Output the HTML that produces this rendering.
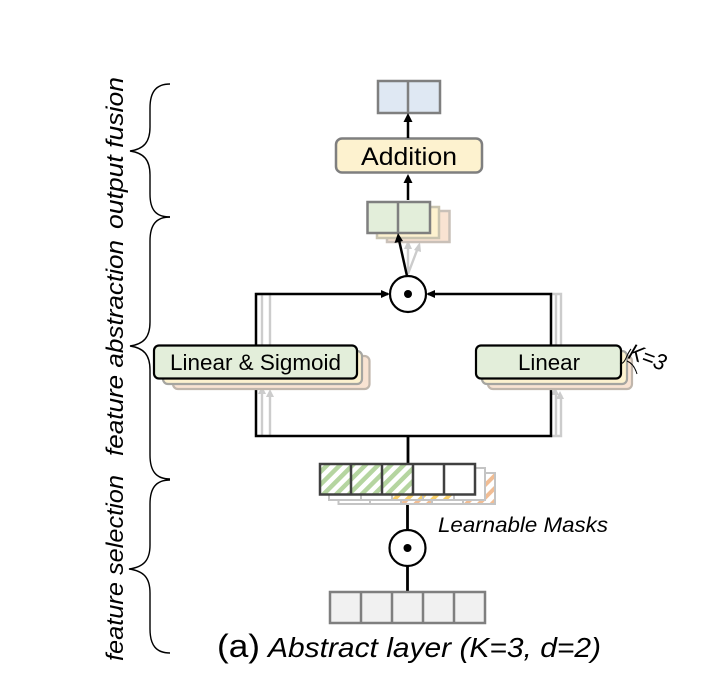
<!DOCTYPE html>
<html>
<head>
<meta charset="utf-8">
<style>
html,body{margin:0;padding:0;background:#fff;width:712px;height:684px;overflow:hidden}
svg{display:block}
text{font-family:"Liberation Sans",sans-serif;fill:#000}
</style>
</head>
<body>
<svg width="712" height="684" viewBox="0 0 712 684" xmlns="http://www.w3.org/2000/svg">
<defs>
<pattern id="hg" width="9" height="9" patternUnits="userSpaceOnUse" patternTransform="rotate(45)"><rect width="9" height="9" fill="#fff"/><rect width="4.5" height="9" fill="#b5d5a0"/></pattern>
<pattern id="hy" width="9" height="9" patternUnits="userSpaceOnUse" patternTransform="rotate(45)"><rect width="9" height="9" fill="#fff"/><rect width="4" height="9" fill="#f7cf6a"/></pattern>
<pattern id="ho" width="9" height="9" patternUnits="userSpaceOnUse" patternTransform="rotate(45)"><rect width="9" height="9" fill="#fff"/><rect width="4" height="9" fill="#f1bd94"/></pattern>
</defs>

<!-- braces -->
<g fill="none" stroke="#000" stroke-width="1.4">
<path d="M170 84C156 84 150 92 150 108V127C150 142 144 149 130 151C144 153 150 160 150 175V194C150 210 156 217 170 217"/>
<path d="M170 217C156 217 150 225 150 241V322C150 337 144 344 130 346C144 348 150 355 150 370V455C150 471 156 479 170 479"/>
<path d="M170 480C156 480 150 488 150 504V545C150 560 144 567 129 569C144 571 150 578 150 593V629C150 645 156 653 170 653"/>
</g>

<!-- side labels -->
<g font-style="italic" font-size="24">
<text transform="translate(123 229) rotate(-90)" textLength="152" lengthAdjust="spacingAndGlyphs">output fusion</text>
<text transform="translate(123 456) rotate(-90)" textLength="216" lengthAdjust="spacingAndGlyphs">feature abstraction</text>
<text transform="translate(123 661) rotate(-90)" textLength="186" lengthAdjust="spacingAndGlyphs">feature selection</text>
</g>

<!-- grey ghost connectors -->
<g fill="none" stroke="#cccccc" stroke-width="2.400">
<path d="M256 294H270V345M262 294V345M262 392V436M270 392V436"/>
<path d="M551 294H561V345M556 294V345M556 392V436H551M561 395V436H551"/>
<path d="M408 274L408 242M408 274L419 245"/>
</g>
<g fill="#cccccc">
<path d="M262 386l-4 8h8z"/><path d="M270 389l-4 8h8z"/>
<path d="M555 387l-4 8h8z"/><path d="M560 391l-4 8h8z"/>
<path d="M408 240l-4 9h8z"/><path d="M420 242l-6 8 7 2z"/>
</g>

<!-- top output -->
<rect x="378" y="81" width="62" height="32" fill="#dfe8f3" stroke="#7f7f7f" stroke-width="2.500"/>
<path d="M408 81V113" stroke="#7f7f7f" stroke-width="2.500"/>

<!-- stacked green -->
<rect x="387" y="211" width="62.500" height="31" fill="#f9e3d2" stroke="#c9c0b8" stroke-width="2.500"/>
<rect x="377" y="207" width="62" height="31" fill="#fdf2cf" stroke="#c9c4b0" stroke-width="2.500"/>
<rect x="367.500" y="202" width="62.500" height="31" fill="#e3eeda" stroke="#7f7f7f" stroke-width="2.500"/>
<path d="M398 202V233" stroke="#7f7f7f" stroke-width="2.500"/>

<!-- addition -->
<rect x="336" y="138.500" width="146" height="34" rx="6" fill="#fdf2cf" stroke="#7f7f7f" stroke-width="2.500"/>
<text x="361" y="165" font-size="25" textLength="96" lengthAdjust="spacingAndGlyphs">Addition</text>

<!-- black connectors -->
<g fill="none" stroke="#000" stroke-width="2.500">
<path d="M408 138V120"/>
<path d="M408 200V179"/>
<path d="M407 276L399 240"/>
<path d="M256 345V294H388"/>
<path d="M551 345V294H428"/>
<path d="M256 385V436H551V385"/>
</g>
<g stroke="#000" stroke-width="2.800" fill="none"><path d="M408 436V463M407.500 494V530M407.500 566V592"/></g>
<g fill="#000">
<path d="M408 113l-4.500 9h9z"/>
<path d="M408 174l-4.500 9h9z"/>
<path d="M398 233l-3.500 10 8.500-2z"/>
<path d="M390 294l-9-4v8z"/>
<path d="M426 294l9-4v8z"/>
<path d="M256 380l-4 8h8z"/>
<path d="M551 380l-4 8h8z"/>
</g>

<!-- circle 1 -->
<circle cx="408" cy="294" r="18" fill="#fff" stroke="#000" stroke-width="2.200"/>
<circle cx="408" cy="294" r="4" fill="#000"/>

<!-- Linear & Sigmoid stack -->
<rect x="173" y="356" width="196.500" height="33" rx="5" fill="#f9e3d2" stroke="#c0b6ac" stroke-width="2.200"/>
<rect x="163" y="351" width="199" height="33" rx="5" fill="#fdf2cf" stroke="#a5a5a0" stroke-width="2.200"/>
<rect x="154" y="345.500" width="203" height="33" rx="5" fill="#e3eeda" stroke="#000" stroke-width="2.200"/>
<text x="170" y="370" font-size="22" textLength="171" lengthAdjust="spacingAndGlyphs">Linear &amp; Sigmoid</text>

<!-- Linear stack -->
<rect x="488" y="356" width="144" height="33" rx="5" fill="#f9e3d2" stroke="#c0b6ac" stroke-width="2.200"/>
<rect x="482" y="351" width="145" height="33" rx="5" fill="#fdf2cf" stroke="#a5a5a0" stroke-width="2.200"/>
<rect x="476" y="345.500" width="145" height="33" rx="5" fill="#e3eeda" stroke="#000" stroke-width="2.200"/>
<text x="518" y="370" font-size="22" textLength="62" lengthAdjust="spacingAndGlyphs">Linear</text>

<!-- K=3 -->
<text transform="translate(627 358) rotate(20)" font-size="23" font-style="italic" textLength="38" lengthAdjust="spacingAndGlyphs">K=3</text>
<path d="M620 364C626 363 626 355 631 349M627 361C632 363 635 367 637 374" fill="none" stroke="#000" stroke-width="1"/>

<!-- masks back: third layer -->
<rect x="338.500" y="473" width="156.500" height="31" fill="#fff"/>
<rect x="401" y="473" width="31" height="31" fill="url(#ho)"/>
<rect x="464" y="473" width="31" height="31" fill="url(#ho)"/>
<rect x="338.500" y="473" width="156.500" height="31" fill="none" stroke="#c4c4c4" stroke-width="2"/>
<path d="M370 473V504M401 473V504M432 473V504M463 473V504" stroke="#c4c4c4" stroke-width="2"/>
<!-- masks back: second layer -->
<rect x="329" y="468" width="156" height="32" fill="#fff"/>
<rect x="392" y="468" width="62" height="32" fill="url(#hy)"/>
<rect x="329" y="468" width="156" height="32" fill="none" stroke="#c4c4c4" stroke-width="2"/>
<path d="M361 468V500M392 468V500M423 468V500M454 468V500" stroke="#c4c4c4" stroke-width="2"/>

<!-- masks front -->
<rect x="320" y="464" width="31" height="30.500" fill="url(#hg)"/>
<rect x="351" y="464" width="31" height="30.500" fill="url(#hg)"/>
<rect x="382" y="464" width="31" height="30.500" fill="url(#hg)"/>
<rect x="413" y="464" width="62" height="30.500" fill="#fff"/>
<rect x="320" y="464" width="155" height="30.500" fill="none" stroke="#404040" stroke-width="2.500"/>
<path d="M351 464V494M382 464V494M413 464V494M444 464V494" stroke="#404040" stroke-width="2.500"/>

<text x="438" y="532" font-size="21" font-style="italic" textLength="170" lengthAdjust="spacingAndGlyphs">Learnable Masks</text>

<!-- circle 2 -->
<circle cx="407.500" cy="548" r="18" fill="#fff" stroke="#000" stroke-width="2.200"/>
<circle cx="407.500" cy="548" r="4" fill="#000"/>

<!-- input -->
<rect x="330" y="592" width="155" height="31" fill="#f1f1f1" stroke="#7f7f7f" stroke-width="2.500"/>
<path d="M361 592V623M392 592V623M423 592V623M454 592V623" stroke="#7f7f7f" stroke-width="2.500"/>

<!-- caption -->
<text x="217" y="657" font-size="32" textLength="43" lengthAdjust="spacingAndGlyphs">(a)</text>
<text x="268" y="657" font-size="28" font-style="italic" textLength="333" lengthAdjust="spacingAndGlyphs">Abstract layer (K=3, d=2)</text>
</svg>
</body>
</html>
